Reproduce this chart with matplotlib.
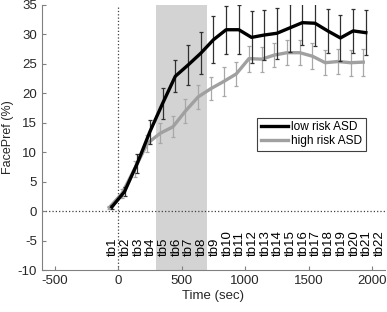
import matplotlib
matplotlib.use('Agg')
import matplotlib.pyplot as plt
from matplotlib.lines import Line2D

# time bins (sec) for the two groups; high risk is drawn slightly offset
low_t = [-50, 50, 150, 250, 350, 450, 550, 650, 750, 850, 950,
         1050, 1150, 1250, 1350, 1450, 1550, 1650, 1750, 1850, 1950]
high_t = [-70, 30, 130, 230, 330, 430, 530, 630, 730, 830, 930,
          1030, 1130, 1230, 1330, 1430, 1530, 1630, 1730, 1830, 1930]

low_y = [0.7, 3.3, 8.1, 13.5, 18.3, 22.9, 24.8, 26.8, 29.1, 30.8, 30.8,
         29.5, 29.9, 30.2, 31.1, 32.0, 31.9, 30.6, 29.4, 30.6, 30.3]
low_err = [0.3, 0.8, 1.6, 2.05, 2.6, 2.7, 3.4, 3.6, 4.0, 4.05, 4.2,
           4.4, 4.3, 4.3, 4.0, 3.8, 3.8, 3.7, 3.9, 3.7, 3.8]

high_y = [0.6, 3.0, 7.2, 11.5, 13.2, 14.3, 17.0, 19.4, 20.8, 22.0, 23.3,
          25.9, 25.8, 26.5, 26.9, 26.9, 26.3, 25.2, 25.4, 25.2, 25.3]
high_err = [0.3, 0.75, 1.35, 1.4, 1.7, 1.8, 2.0, 2.0, 1.95, 2.4, 2.0,
            2.2, 2.1, 2.1, 2.1, 2.1, 2.2, 2.1, 2.1, 2.2, 2.3]

tb_labels = ['tb%d' % i for i in range(1, 23)]
tb_pos = [-40, 60, 160, 260, 360, 460, 560, 660, 760, 860, 960, 1060,
          1160, 1260, 1360, 1460, 1560, 1660, 1760, 1860, 1960, 2060]

shade = (300, 700)


def main():
    plt.rcParams['font.family'] = ['Liberation Sans', 'DejaVu Sans']
    plt.rcParams['axes.unicode_minus'] = False
    fig = plt.figure(figsize=(3.87, 3.12), dpi=100)
    ax = fig.add_axes([0.1085, 0.1346, 0.886, 0.8494])

    ax.axvspan(shade[0], shade[1], color='#d3d3d3', lw=0, zorder=0)
    ax.axhline(0, color='#404040', ls=':', lw=0.9, zorder=1)
    ax.axvline(0, color='#404040', ls=':', lw=0.9, zorder=1)

    ax.errorbar(high_t, high_y, yerr=high_err, color='#a0a0a0', lw=2.4,
                ecolor='#a8a8a8', elinewidth=0.9, capsize=1.5, capthick=0.9,
                zorder=3)
    ax.errorbar(low_t, low_y, yerr=low_err, color='black', lw=2.4,
                ecolor='#303030', elinewidth=0.9, capsize=1.5, capthick=0.9,
                zorder=4)

    for x, lab in zip(tb_pos, tb_labels):
        ax.text(x, -7.6, lab, rotation=90, ha='center', va='bottom',
                fontsize=9.5, color='black', zorder=5)

    ax.set_xlim(-600, 2100)
    ax.set_ylim(-10, 35)
    ax.set_xticks([-500, 0, 500, 1000, 1500, 2000])
    ax.set_yticks(range(-10, 36, 5))
    ax.tick_params(direction='in', length=3, width=0.8, colors='#808080',
                   labelcolor='#262626', labelsize=9.5)
    for s in ['top', 'right']:
        ax.spines[s].set_visible(False)
    for s in ['left', 'bottom']:
        ax.spines[s].set_color('#808080')
        ax.spines[s].set_linewidth(0.8)

    ax.set_xlabel('Time (sec)', fontsize=9.5, color='#262626', labelpad=2)
    ax.set_ylabel('FacePref (%)', fontsize=9, color='#262626', labelpad=3)

    handles = [Line2D([], [], color='black', lw=2.4),
               Line2D([], [], color='#a0a0a0', lw=2.4)]
    leg = ax.legend(handles, ['low risk ASD', 'high risk ASD'],
                    loc='upper right', bbox_to_anchor=(0.944, 0.574),
                    borderaxespad=0, fontsize=8.6, handlelength=2.3,
                    frameon=True, fancybox=False, borderpad=0.3,
                    labelspacing=0.15, handletextpad=0.25)
    leg.get_frame().set_edgecolor('#404040')
    leg.get_frame().set_linewidth(0.8)
    leg.get_frame().set_alpha(1)

    fig.savefig('out.png', dpi=100)


if __name__ == '__main__':
    main()
